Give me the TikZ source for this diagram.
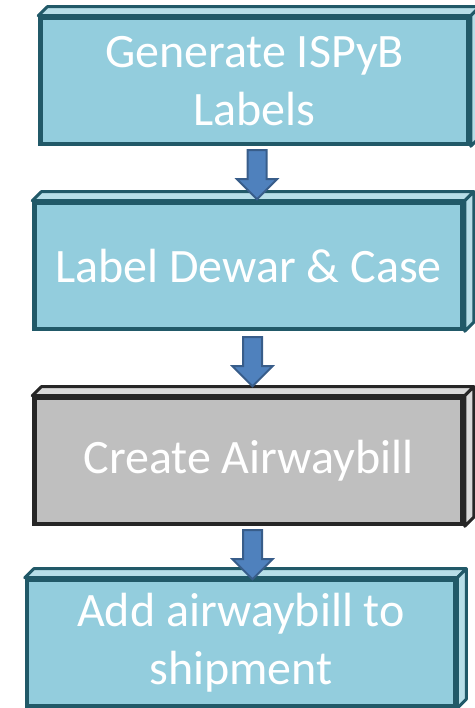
\documentclass[tikz,border=0pt]{standalone}
\usepackage{fontspec}
\setmainfont{Carlito}
\usepackage{xcolor}
\usetikzlibrary{calc,positioning}

\definecolor{boxfill}{HTML}{93CDDD}
\definecolor{boxline}{HTML}{215968}
\definecolor{boxtop}{HTML}{B7DEE8}
\definecolor{greyfill}{HTML}{BFBFBF}
\definecolor{greyline}{HTML}{262626}
\definecolor{greytop}{HTML}{D9D9D9}
\definecolor{arrowfill}{HTML}{4F81BD}
\definecolor{arrowline}{HTML}{385D8A}

\tikzset{
  stepbox/.style={rectangle, minimum width=428pt, minimum height=126pt, inner sep=0pt,
    line width=4.5pt, draw=boxline, fill=boxfill, text=white, align=center,
    font=\fontsize{48}{58}\selectfont},
  greybox/.style={stepbox, draw=greyline, fill=greyfill},
  flowarrow/.style={draw=arrowline, fill=arrowfill, line width=2pt, line join=miter},
}

% top and right face of a box: #1 node, #2 line colour, #3 face colour
\newcommand{\bevel}[3]{%
  \filldraw[draw=#2, fill=#3, line width=3pt, line join=round]
    (#1.north west) -- ++(9,9) -- ($(#1.north east)+(9,9)$) -- (#1.north east) -- cycle;
  \filldraw[draw=#2, fill=#3, line width=3pt, line join=round]
    (#1.north east) -- ++(9,9) -- ($(#1.south east)+(9,9)$) -- (#1.south east) -- cycle;}

% block arrow: #1 tail, #2 tip
\newcommand{\blockarrow}[2]{%
  \draw[flowarrow] ($(#1)+(-9.5,0)$) -- ($(#2)+(-9.5,20)$) -- ($(#2)+(-20,20)$) -- (#2)
    -- ($(#2)+(20,20)$) -- ($(#2)+(9.5,20)$) -- ($(#1)+(9.5,0)$) -- cycle;}

\begin{document}
\begin{tikzpicture}[x=1pt, y=1pt]
\useasboundingbox (0,0) rectangle (474,708);

	\node[stepbox] (gen) at (254.5,627) {Generate ISPyB\\Labels};% first step
	\node[stepbox] (lab) at (248.5,442) {Label Dewar \& Case};% second step
	\node[greybox] (awb) at (248.5,247) {Create Airwaybill};% third step
	\node[stepbox] (add) at (241,65) {Add airwaybill to\\shipment};% last step

\bevel{gen}{boxline}{boxtop}
\bevel{lab}{boxline}{boxtop}
\bevel{awb}{greyline}{greytop}
\bevel{add}{boxline}{boxtop}

\coordinate (t1) at ($(gen.south)+(2.5,-4)$);
\coordinate (h1) at ($(t1)+(0,-49)$);
\coordinate (t2) at ($(lab.south)+(4,-6)$);
\coordinate (h2) at ($(t2)+(0,-49)$);
\coordinate (t3) at ($(awb.south)+(4,-4)$);
\coordinate (h3) at ($(t3)+(0,-49)$);

\blockarrow{t1}{h1}
\blockarrow{t2}{h2}
\blockarrow{t3}{h3}

\end{tikzpicture}
\end{document}
